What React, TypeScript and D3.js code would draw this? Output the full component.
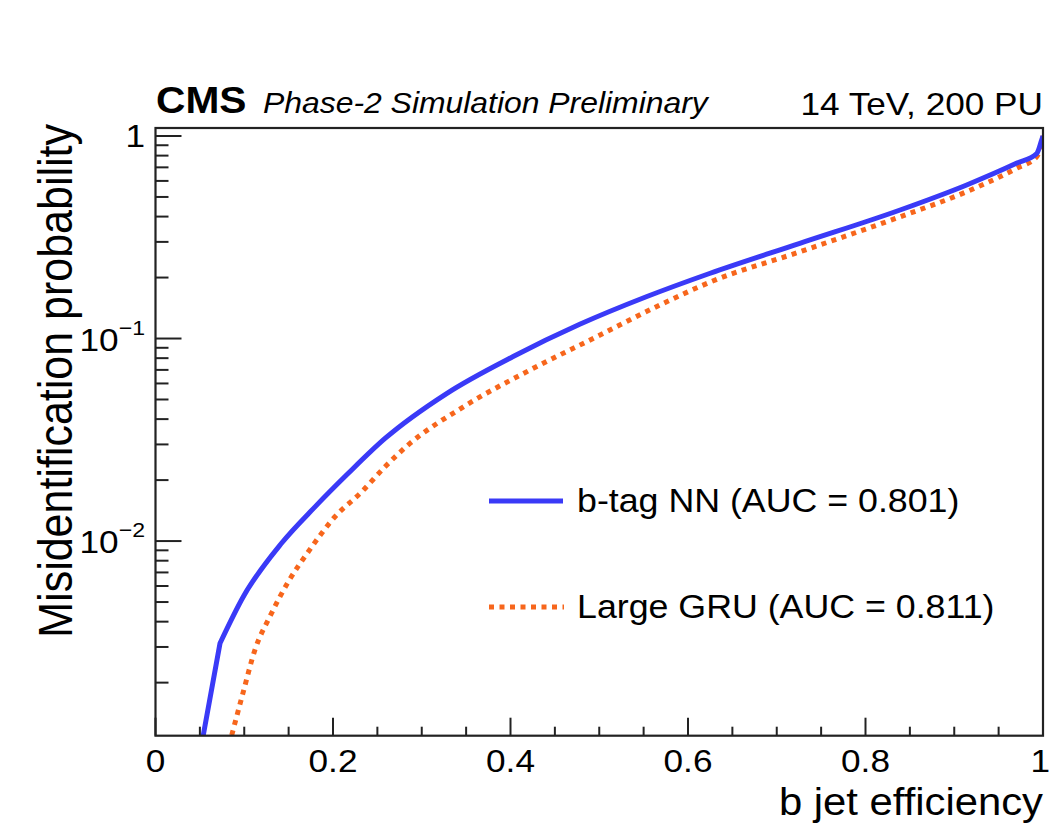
import React from "react";
import * as d3 from "d3";

// ---- data ----
const nnEff = [0.0535, 0.0727, 0.0989, 0.1422, 0.1797, 0.2172, 0.2586, 0.328, 0.403, 0.478, 0.553, 0.625, 0.726, 0.839, 0.914, 0.97, 0.993, 0.9985, 1.0];
const nnMis = [0.00108, 0.00313, 0.00531, 0.00978, 0.01475, 0.0216, 0.0321, 0.0535, 0.0815, 0.1175, 0.1607, 0.21, 0.295, 0.431, 0.573, 0.733, 0.82, 0.955, 1.0];

const gruEff = [0.0859, 0.0989, 0.112, 0.129, 0.1497, 0.1722, 0.2022, 0.2323, 0.2586, 0.283, 0.347, 0.422, 0.497, 0.572, 0.625, 0.726, 0.839, 0.914, 0.97, 0.993, 1.0];
const gruMis = [0.0011, 0.0018, 0.0029, 0.00425, 0.0063, 0.00886, 0.01318, 0.01749, 0.02327, 0.0294, 0.046, 0.0699, 0.102, 0.149, 0.19, 0.268, 0.399, 0.531, 0.692, 0.79, 1.0];

const xTicks = [0, 0.2, 0.4, 0.6, 0.8, 1];
const xTickLabels = ["0", "0.2", "0.4", "0.6", "0.8", "1"];
const yMajor = [1, 0.1, 0.01];
const yMajorExp = ["", "−1", "−2"];

const seriesNames = ["b-tag NN (AUC = 0.801)", "Large GRU (AUC = 0.811)"];
const seriesColors = ["#3a3af7", "#f7661c"];

const YMIN = 0.001094;
const YMAX = 1.095;

const FONT = "'Liberation Sans', Arial, Helvetica, sans-serif";
const SX = 1.1;

const L = 155.5, R = 1043, T = 128, B = 735.7;

function Txt(props: any) {
  const { x, y, anchor = "start", size, weight, italic, rotate, children } = props;
  return (
    <text
      transform={`translate(${x},${y}) scale(${SX},1)${rotate ? " rotate(-90)" : ""}`}
      textAnchor={anchor}
      fontSize={size}
      fontWeight={weight || "normal"}
      fontStyle={italic ? "italic" : "normal"}
      fontFamily={FONT}
      fill="#000"
    >
      {children}
    </text>
  );
}

export default function App() {
  const x = d3.scaleLinear().domain([0, 1]).range([L, R]);
  const y = d3.scaleLog().domain([YMIN, YMAX]).range([B, T]);

  const nnData = nnEff.map((e, i) => [e, nnMis[i]] as [number, number]);
  const gruData = gruEff.map((e, i) => [e, gruMis[i]] as [number, number]);

  const lineLin = d3.line<[number, number]>().x((d) => x(d[0])).y((d) => y(d[1]));
  const lineSmooth = d3
    .line<[number, number]>()
    .x((d) => x(d[0]))
    .y((d) => y(d[1]))
    .curve(d3.curveMonotoneX);

  // blue: straight segment up to the kink, smooth afterwards
  const nnPath = (lineLin(nnData.slice(0, 2)) || "") + (lineSmooth(nnData.slice(1)) || "").replace(/^M/, "L");

  const xMinor = d3.range(0, 1.0001, 0.05).filter((v) => Math.abs(v * 5 - Math.round(v * 5)) > 1e-6);
  const yMinor: number[] = [];
  [0.001, 0.01, 0.1].forEach((dec) => {
    for (let k = 2; k <= 9; k++) {
      const v = dec * k;
      if (v > YMIN && v < YMAX) yMinor.push(v);
    }
  });

  return (
    <svg
      width={1051}
      height={828}
      style={{ position: "absolute", left: 0, top: 0, background: "#fff" }}
    >
      <defs>
        <clipPath id="plotclip">
          <rect x={L} y={T} width={R - L} height={B - T} />
        </clipPath>
      </defs>
      <rect x={0} y={0} width={1051} height={828} fill="#fff" />

      {/* curves */}
      <g clipPath="url(#plotclip)">
        <path
          d={lineSmooth(gruData) || ""}
          fill="none"
          stroke={seriesColors[1]}
          strokeWidth={5}
          strokeDasharray="5 5.5"
        />
        <path
          d={nnPath}
          fill="none"
          stroke={seriesColors[0]}
          strokeWidth={5}
          strokeLinejoin="round"
        />
      </g>

      {/* frame */}
      <rect x={L} y={T} width={R - L} height={B - T} fill="none" stroke="#222" strokeWidth={2.2} />

      {/* x ticks */}
      {xTicks.map((v) => (
        <line key={"xM" + v} x1={x(v)} x2={x(v)} y1={B} y2={B - 18} stroke="#222" strokeWidth={2} />
      ))}
      {xMinor.map((v) => (
        <line key={"xm" + v} x1={x(v)} x2={x(v)} y1={B} y2={B - 9} stroke="#222" strokeWidth={2} />
      ))}
      {xTicks.map((v, i) => {
        const last = i === xTicks.length - 1;
        return (
          <Txt key={"xl" + v} x={last ? 1050 : x(v)} y={772} anchor={last ? "end" : "middle"} size={32}>
            {xTickLabels[i]}
          </Txt>
        );
      })}

      {/* y ticks */}
      {yMajor.map((v) => (
        <line key={"yM" + v} x1={L} x2={L + 26} y1={y(v)} y2={y(v)} stroke="#222" strokeWidth={2} />
      ))}
      {yMinor.map((v) => (
        <line key={"ym" + v} x1={L} x2={L + 13} y1={y(v)} y2={y(v)} stroke="#222" strokeWidth={2} />
      ))}
      {yMajor.map((v, i) =>
        yMajorExp[i] === "" ? (
          <Txt key={"yl" + v} x={145} y={y(v) + 11} anchor="end" size={32}>
            1
          </Txt>
        ) : (
          <Txt key={"yl" + v} x={145} y={y(v) + 12} anchor="end" size={32}>
            <tspan>10</tspan>
            <tspan fontSize={21} dy={-16}>
              {yMajorExp[i]}
            </tspan>
          </Txt>
        )
      )}

      {/* axis titles */}
      <Txt x={1043} y={815} anchor="end" size={38}>
        b jet efficiency
      </Txt>
      <Txt x={72} y={124} anchor="end" size={43} rotate>
        Misidentification probability
      </Txt>

      {/* header */}
      <Txt x={156} y={113} size={37} weight="bold">
        CMS
      </Txt>
      <Txt x={263} y={113} size={29} italic>
        Phase-2 Simulation Preliminary
      </Txt>
      <Txt x={1043} y={115} anchor="end" size={32}>
        14 TeV, 200 PU
      </Txt>

      {/* legend */}
      <line x1={489} x2={563} y1={501} y2={501} stroke={seriesColors[0]} strokeWidth={5} />
      <Txt x={577} y={512} size={32.5}>
        {seriesNames[0]}
      </Txt>
      <line
        x1={489}
        x2={564}
        y1={607}
        y2={607}
        stroke={seriesColors[1]}
        strokeWidth={5}
        strokeDasharray="5 5.5"
      />
      <Txt x={577} y={618} size={32.5}>
        {seriesNames[1]}
      </Txt>
    </svg>
  );
}
